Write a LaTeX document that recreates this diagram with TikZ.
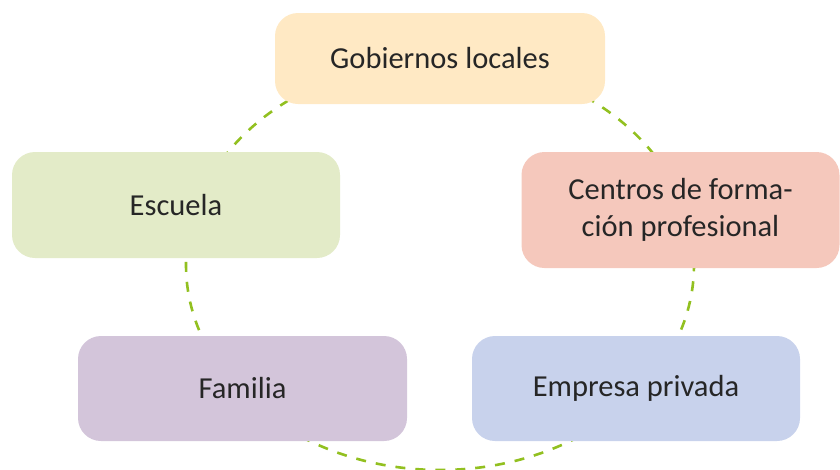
\documentclass[tikz,border=0pt]{standalone}
\usepackage{fontspec}
\setmainfont{Carlito}
\usepackage{tikz}

\definecolor{ringgreen}{RGB}{146,192,32}
\definecolor{fillgob}{RGB}{255,233,196}
\definecolor{fillesc}{RGB}{227,235,200}
\definecolor{fillcen}{RGB}{245,200,188}
\definecolor{fillfam}{RGB}{211,197,218}
\definecolor{fillemp}{RGB}{200,210,236}

\tikzset{
  actor/.style={rounded corners=23pt, inner sep=0pt, align=center,
    text=black!85, font=\fontsize{30.5}{37}\selectfont},
  ring/.style={ringgreen, line width=2.6pt, dash pattern=on 10pt off 10pt}
}

\begin{document}
\begin{tikzpicture}[x=1pt,y=-1pt]

% Keep the page the size of the reference
\useasboundingbox (0,0) rectangle (840,469);

% Draw the dashed cycle behind the boxes
\coordinate (hub) at (440,265);
\draw[ring] (hub) ellipse [x radius=254pt, y radius=205pt];

% Draw the five boxes
\node[actor, fill=fillgob, minimum width=330pt, minimum height=91pt] (gobiernos) at (440,58.5) {Gobiernos locales};
\node[actor, fill=fillesc, minimum width=328pt, minimum height=106pt] (escuela) at (176,205) {Escuela};
\node[actor, fill=fillcen, minimum width=318pt, minimum height=116pt] (centros) at (680.5,210) {Centros de forma-\\ción profesional};
\node[actor, fill=fillfam, minimum width=329pt, minimum height=105pt] (familia) at (242.5,388.5) {Familia};
\node[actor, fill=fillemp, minimum width=328pt, minimum height=105pt] (empresa) at (636,388.5) {Empresa privada};

\end{tikzpicture}
\end{document}
